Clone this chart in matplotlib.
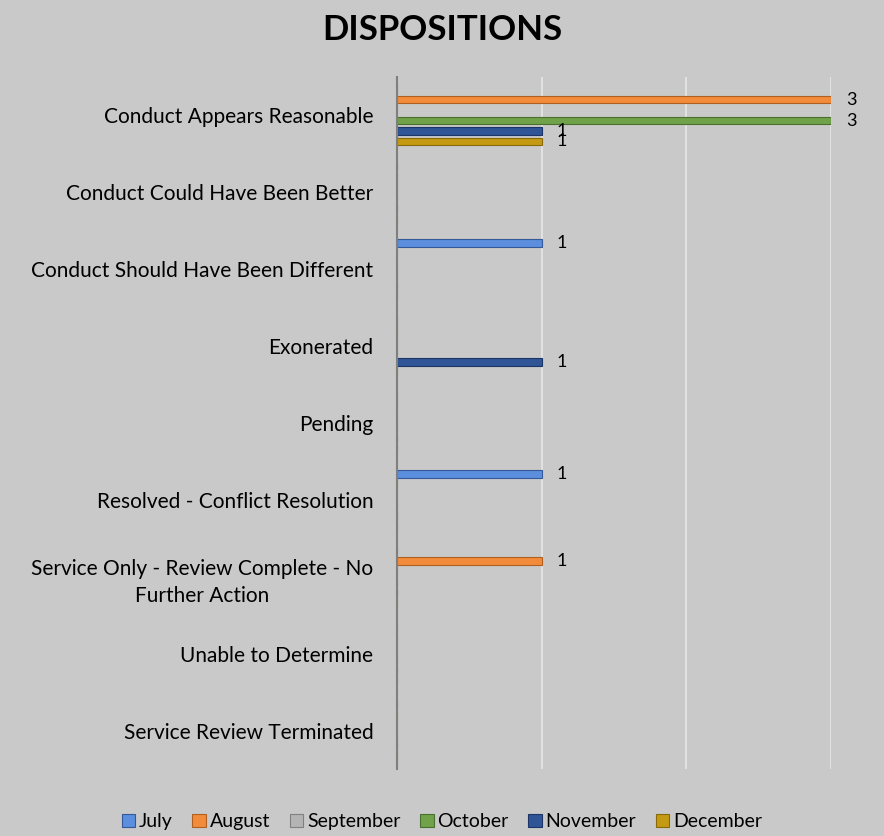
import matplotlib.pyplot as plt
import numpy as np

plt.rcParams['font.family'] = ['Lato', 'DejaVu Sans']

categories = [
    "Conduct Appears Reasonable",
    "Conduct Could Have Been Better",
    "Conduct Should Have Been Different",
    "Exonerated",
    "Pending",
    "Resolved - Conflict Resolution",
    "Service Only - Review Complete - No\nFurther Action",
    "Unable to Determine",
    "Service Review Terminated",
]
months = ["July", "August", "September", "October", "November", "December"]
july = [0, 0, 1, 0, 0, 1, 0, 0, 0]
august = [3, 0, 0, 0, 0, 0, 1, 0, 0]
september = [0, 0, 0, 0, 0, 0, 0, 0, 0]
october = [3, 0, 0, 0, 0, 0, 0, 0, 0]
november = [1, 0, 0, 1, 0, 0, 0, 0, 0]
december = [1, 0, 0, 0, 0, 0, 0, 0, 0]
series = [july, august, september, october, november, december]
colors = ["#5B8EDC", "#F28C3C", "#B4B4B4", "#71A24A", "#2F5597", "#C49A12"]
edges = ["#34589A", "#B0601E", "#808080", "#4A7030", "#1C3566", "#8A6A08"]

bg = "#C9C9C9"
fig = plt.figure(figsize=(8.84, 8.36), dpi=100, facecolor=bg)
ax = fig.add_axes([0.449, 0.0801, 0.491, 0.828], facecolor=bg)

y = np.arange(len(categories))
step = 0.136
for i, (vals, name) in enumerate(zip(series, months)):
    pos = y + (i - 2.5) * step
    ax.barh(pos, vals, height=0.1, color=colors[i], edgecolor=edges[i],
            linewidth=0.8, label=name, zorder=3)
    for p, v in zip(pos, vals):
        if v:
            ax.annotate(str(v), (v, p), xytext=(11, 0), textcoords="offset points",
                        va="center", ha="left", fontsize=13, color="#000000")

ax.set_xlim(0, 3)
ax.set_ylim(len(categories) - 0.5, -0.5)
ax.set_xticks([0, 1, 2, 3])
ax.xaxis.grid(True, color="#E4E4E4", linewidth=1.3, zorder=0)
ax.tick_params(axis="x", bottom=False, labelbottom=False)
ax.set_yticks(y)
ax.set_yticklabels(categories, fontsize=15, multialignment="center", linespacing=1.45)
ax.tick_params(axis="y", length=0, pad=17, colors="#000000")
for s in ["top", "right", "bottom"]:
    ax.spines[s].set_visible(False)
ax.spines["left"].set_color("#7F7F7F")
ax.spines["left"].set_linewidth(1.5)
ax.spines["left"].set_zorder(4)

fig.text(0.5, 0.964, "DISPOSITIONS", ha="center", va="center",
         fontsize=25, fontweight="bold")

fig.legend(loc="center", bbox_to_anchor=(0.5, 0.017), ncol=6, frameon=False,
           fontsize=14, handlelength=0.7, handleheight=0.7, handletextpad=0.2,
           columnspacing=1.0)

fig.savefig("out.png", dpi=100, facecolor=bg)
